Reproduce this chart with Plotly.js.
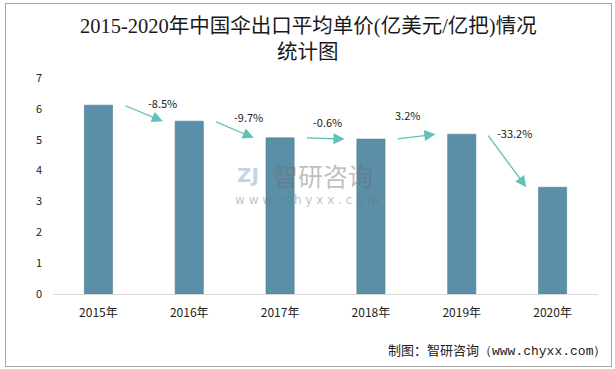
<!DOCTYPE html>
<html><head><meta charset="utf-8">
<script src="https://cdn.plot.ly/plotly-3.0.1.min.js"></script>
<style>html,body{margin:0;padding:0;background:#fff}#wrap{position:relative;width:615px;height:369px}#frame{position:absolute;left:5px;top:3px;width:605px;height:362px;border:1px solid #a6a6a6;pointer-events:none}</style>
</head><body><div id="wrap"><div id="chart" style="width:615px;height:369px"></div><div id="frame"></div></div>
<script>
const years = ["2015年","2016年","2017年","2018年","2019年","2020年"];
const prices = [6.12, 5.60, 5.06, 5.02, 5.18, 3.46];
const changes = ["-8.5%","-9.7%","-0.6%","3.2%","-33.2%"];
const titleLines = ["2015-2020年中国伞出口平均单价(亿美元/亿把)情况", "统计图"];

const labelDx = [0.71, 0.65, 0.52, 0.40, 0.58];
const labelDy = [0.06, 0.13, 0.52, 0.61, 0.03];
const arrowColor = "#62c0b6";
const ann = [];
for (let i = 0; i < changes.length; i++) {
  ann.push({x: i + 0.71, y: prices[i+1], ax: i + 0.28, ay: prices[i], xref: 'x', yref: 'y', axref: 'x', ayref: 'y',
    showarrow: true, arrowhead: 2, arrowsize: 1.7, arrowwidth: 1.3, arrowcolor: arrowColor, text: '', standoff: 0});
  ann.push({x: i + labelDx[i], y: Math.max(prices[i], prices[i+1]) + labelDy[i], xref: 'x', yref: 'y', showarrow: false,
    text: changes[i], font: {family: 'Noto Sans CJK SC, sans-serif', size: 11, color: '#222'}});
}
const titleFont = {family: 'Liberation Serif, Noto Sans CJK SC, serif', size: 20.5, color: '#1a1a1a'};
ann.push({x: 0.468, y: 1.2407, xref: 'paper', yref: 'paper', xanchor: 'center', yanchor: 'middle', showarrow: false, text: titleLines[0], font: titleFont});
ann.push({x: 0.468, y: 1.120, xref: 'paper', yref: 'paper', xanchor: 'center', yanchor: 'middle', showarrow: false, text: titleLines[1], font: titleFont});
// watermark
ann.push({x: 0.495, y: 0.551, xref: 'paper', yref: 'paper', xanchor: 'center', yanchor: 'middle', showarrow: false, text: '智研咨询',
  font: {family: 'Noto Sans CJK SC, sans-serif', size: 25, color: 'rgba(110,110,110,0.45)'}});
ann.push({x: 0.466, y: 0.435, xref: 'paper', yref: 'paper', xanchor: 'center', yanchor: 'middle', showarrow: false, text: 'w w w . c h y x x . c o m',
  font: {family: 'DejaVu Sans, sans-serif', size: 12, color: 'rgba(110,110,110,0.45)'}});
ann.push({x: 0.358, y: 0.551, xref: 'paper', yref: 'paper', xanchor: 'center', yanchor: 'middle', showarrow: false, text: '<b>ZJ</b>',
  font: {family: 'DejaVu Sans, sans-serif', size: 20, color: 'rgba(160,180,215,0.6)'}});
// source
ann.push({x: 1.018, y: -0.259, xref: 'paper', yref: 'paper', xanchor: 'right', yanchor: 'middle', showarrow: false,
  text: '制图：智研咨询<span style="font-family:Liberation Mono, monospace">（www.chyxx.com）</span>',
  font: {family: 'Noto Sans CJK SC, sans-serif', size: 13, color: '#222'}});

const data = [{type: 'bar', x: years, y: prices, width: 0.31,
  marker: {color: '#5b8fa7', line: {color: '#4d7d94', width: 0.6}}, hoverinfo: 'skip'}];

const layout = {
  width: 615, height: 369,
  margin: {l: 53, r: 17, t: 78, b: 75},
  paper_bgcolor: '#fff', plot_bgcolor: '#fff',
  xaxis: {type: 'category', showgrid: false, showline: true, linecolor: '#d9d9d9', linewidth: 1, ticks: '',
    ticklabelstandoff: 8, tickfont: {family: 'Noto Sans CJK SC, sans-serif', size: 12, color: '#222'}, fixedrange: true},
  yaxis: {range: [0, 7], dtick: 1, showgrid: false, zeroline: false, showline: false, ticks: '',
    ticklabelstandoff: 10, tickfont: {family: 'Noto Sans CJK SC, sans-serif', size: 11, color: '#222'}, fixedrange: true},
  annotations: ann,
  showlegend: false
};
Plotly.newPlot('chart', data, layout, {displayModeBar: false, staticPlot: true});
</script></body></html>
